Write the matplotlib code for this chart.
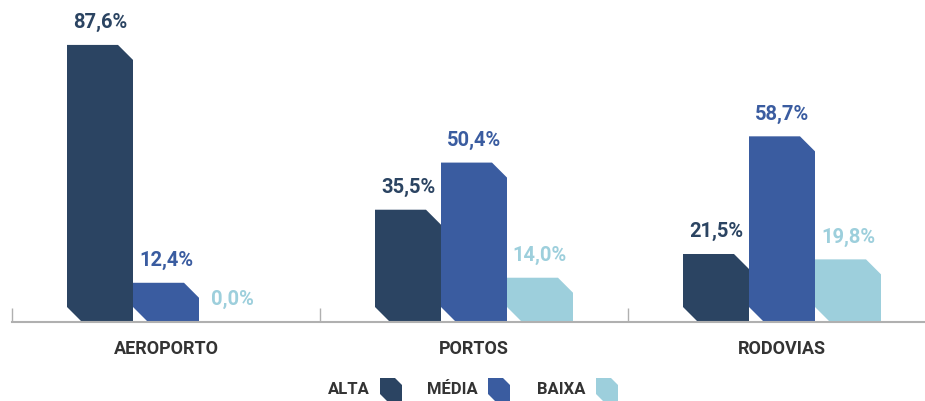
import matplotlib.pyplot as plt
from matplotlib.patches import Polygon
import numpy as np

plt.rcParams['font.family'] = ['Roboto', 'DejaVu Sans']

categories = ['AEROPORTO', 'PORTOS', 'RODOVIAS']
series = ['ALTA', 'MÉDIA', 'BAIXA']
alta = [87.6, 35.5, 21.5]
media = [12.4, 50.4, 58.7]
baixa = [0.0, 14.0, 19.8]
colors = ['#2b4462', '#3a5ca0', '#9dcfdc']

W, H = 925, 401
fig = plt.figure(figsize=(W / 100, H / 100), dpi=100)

# axes in pixel terms: baseline at y=322, left at x=12
ymax = 100
px_per_unit = 3.163
ax_h = ymax * px_per_unit
ax = fig.add_axes([12 / W, (H - 322) / H, (W - 12) / W, ax_h / H])
ax.set_xlim(-0.5, -0.5 + (W - 12) / 308)
ax.set_ylim(0, ymax)

bw = 66 / 308
cx = 15 / 308
cy = 15 / px_per_unit


def chamfer_bar(x0, h, color):
    if h <= 0:
        return
    x1 = x0 + bw
    c = min(cy, h / 2)
    pts = [(x0 + cx, 0), (x1, 0), (x1, h - c), (x1 - cx, h),
           (x0, h), (x0, c)]
    ax.add_patch(Polygon(pts, closed=True, facecolor=color, edgecolor='none'))


x = np.arange(len(categories))
for i, vals in enumerate([alta, media, baixa]):
    for xi, v in zip(x, vals):
        left = xi + (i - 1.5) * bw
        chamfer_bar(left, v, colors[i])
        ax.text(left + bw / 2, v + 7, f'{v:.1f}%'.replace('.', ','),
                ha='center', va='center', fontsize=14.5, fontweight='bold',
                color=colors[i])

for s in ['top', 'right', 'left']:
    ax.spines[s].set_visible(False)
ax.spines['bottom'].set_color('#b0b0b0')
ax.spines['bottom'].set_linewidth(1.5)
ax.set_yticks([])
ax.set_xticks(x)
ax.set_xticklabels(categories, fontsize=13, fontweight='bold', color='#333333')
ax.tick_params(axis='x', which='major', length=0, pad=13)
ax.set_xticks([-0.5, 0.5, 1.5], minor=True)
ax.tick_params(axis='x', which='minor', direction='in', length=10,
               width=1, color='#b0b0b0')

# legend drawn in pixel coords on an overlay
lg = fig.add_axes([0, 0, 1, 1])
lg.set_xlim(0, W)
lg.set_ylim(H, 0)
lg.axis('off')
lg.patch.set_alpha(0)
text_right = [370, 478, 586]
for name, col, tr in zip(series, colors, text_right):
    lg.text(tr, 390, name, ha='right', va='center', fontsize=12,
            fontweight='bold', color='#333333')
    sx0 = tr + 10
    sx1 = sx0 + 22
    sy0, sy1 = 378, 401
    c = 7
    lg.add_patch(Polygon([(sx0, sy0), (sx1 - c, sy0), (sx1, sy0 + c),
                          (sx1, sy1), (sx0 + c, sy1), (sx0, sy1 - c)],
                         closed=True, facecolor=col, edgecolor='none'))

plt.savefig('out.png', dpi=100)
